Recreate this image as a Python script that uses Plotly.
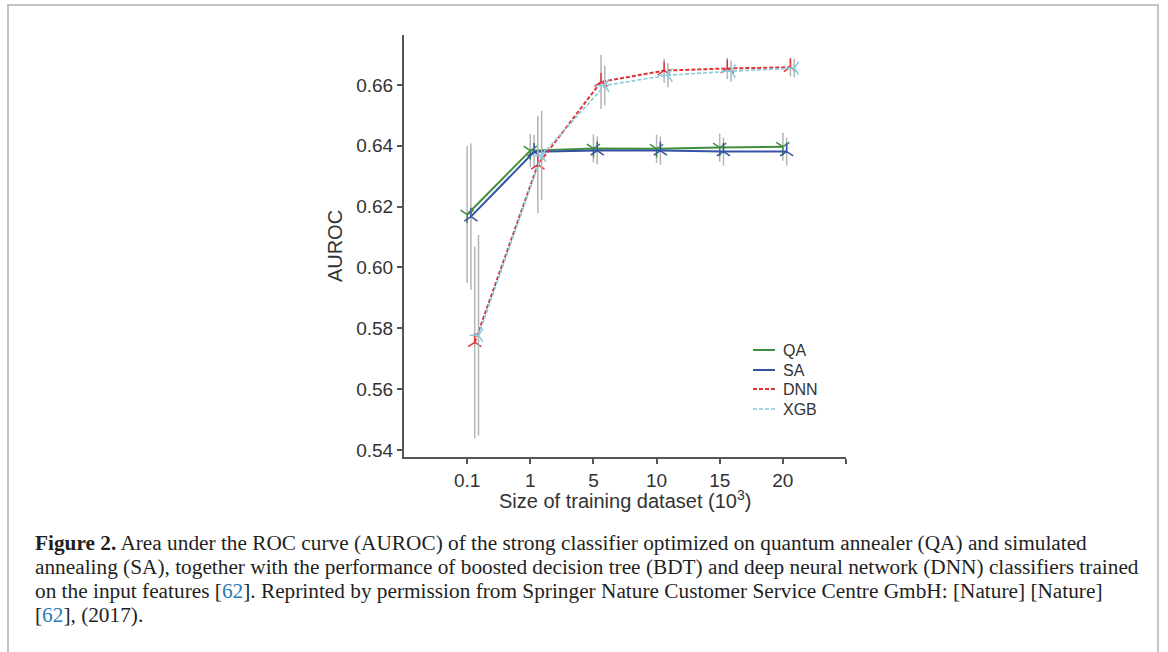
import plotly.graph_objects as go

categories = ["0.1", "1", "5", "10", "15", "20"]
cat_pos = [1, 2, 3, 4, 5, 6]

qa_auc = [0.6174, 0.6384, 0.6391, 0.6390, 0.6394, 0.6397]
qa_err = [0.0225, 0.0055, 0.0046, 0.0046, 0.0046, 0.0046]
sa_auc = [0.6167, 0.6380, 0.6384, 0.6384, 0.6381, 0.6381]
sa_err = [0.0240, 0.0055, 0.0046, 0.0046, 0.0046, 0.0046]
dnn_auc = [0.5754, 0.6338, 0.6610, 0.6647, 0.6654, 0.6658]
dnn_err = [0.0315, 0.0160, 0.0089, 0.0040, 0.0035, 0.0030]
xgb_auc = [0.5777, 0.6368, 0.6598, 0.6632, 0.6645, 0.6655]
xgb_err = [0.0330, 0.0147, 0.0065, 0.0040, 0.0035, 0.0030]

y_ticks = [0.54, 0.56, 0.58, 0.60, 0.62, 0.64, 0.66]

series = [
    ("QA", qa_auc, qa_err, "#3f8f3c", "solid", 0.0, "y-down", 2.0),
    ("SA", sa_auc, sa_err, "#3552a6", "solid", 0.06, "y-up", 2.0),
    ("DNN", dnn_auc, dnn_err, "#de3338", "4px,2px", 0.12, "y-up", 2.0),
    ("XGB", xgb_auc, xgb_err, "#86cbe0", "4px,2px", 0.18, "y-left", 1.6),
]

# body margin is removed in the page (post_script), so page px == figure px
W, H = 1168, 652
L, R, T, B = 404, 846, 35, 457

def px(x):
    return (x - L) / (R - L)

def py(y):
    return (B - y) / (B - T)

fig = go.Figure()
for name, vals, errs, color, dash, off, sym, lw in series:
    fig.add_trace(go.Scatter(
        x=[c + off for c in cat_pos], y=vals,
        mode="lines+markers",
        line=dict(color=color, width=lw, dash=dash),
        marker=dict(symbol=sym, size=11, color=color,
                    line=dict(color=color, width=1.5)),
        error_y=dict(type="data", array=errs, visible=True,
                     color="#b4b4b4", thickness=1.5, width=0),
        showlegend=False, name=name,
    ))

# legend (drawn manually for compact spacing)
legend_y = [350, 370, 389, 409]
for (name, vals, errs, color, dash, off, sym, lw), ly in zip(series, legend_y):
    fig.add_shape(type="line", xref="paper", yref="paper",
                  x0=px(753), x1=px(775), y0=py(ly), y1=py(ly),
                  line=dict(color=color, width=lw, dash=dash))
    fig.add_annotation(text=name, xref="paper", yref="paper",
                       x=px(781), y=py(ly), xanchor="left", yanchor="middle",
                       showarrow=False,
                       font=dict(family="Liberation Sans, Arial", size=16, color="#333333"))

axis_font = dict(family="Liberation Sans, Arial", size=19, color="#333333")
title_font = dict(family="Liberation Sans, Arial", size=20, color="#333333")

fig.update_xaxes(
    range=[0, 7], tickmode="array",
    tickvals=cat_pos + [7], ticktext=categories + [""],
    showline=True, linecolor="#555555", linewidth=2,
    ticks="outside", ticklen=5, tickwidth=1.5, tickcolor="#555555",
    showgrid=False, zeroline=False, tickfont=axis_font,
)
fig.add_annotation(
    text="Size of training dataset (10<sup>3</sup>)",
    xref="paper", yref="paper", x=0.5, y=py(499),
    xanchor="center", yanchor="middle", showarrow=False, font=title_font,
)
fig.update_yaxes(
    range=[0.5377, 0.6764], tickmode="array", tickvals=y_ticks,
    tickformat=".2f",
    showline=True, linecolor="#555555", linewidth=2,
    ticks="outside", ticklen=5, tickwidth=1.5, tickcolor="#555555",
    showgrid=False, zeroline=False, tickfont=axis_font,
    title=dict(text="AUROC", font=title_font, standoff=8),
)

caption_lines = [
    "<b>Figure 2.</b> Area under the ROC curve (AUROC) of the strong classifier optimized on quantum annealer (QA) and simulated",
    "annealing (SA), together with the performance of boosted decision tree (BDT) and deep neural network (DNN) classifiers trained",
    "on the input features [<span style='color:#2b7bb5'>62</span>]. Reprinted by permission from Springer Nature Customer Service Centre GmbH: [Nature] [Nature]",
    "[<span style='color:#2b7bb5'>62</span>], (2017).",
]
caption_y = [543, 567, 591, 615]
for line, yy in zip(caption_lines, caption_y):
    fig.add_annotation(
        text=line, xref="paper", yref="paper", x=px(33), y=py(yy),
        xanchor="left", yanchor="middle", showarrow=False, align="left",
        font=dict(family="Liberation Serif, Times New Roman", size=21.3, color="#1f1f1f"),
    )

fig.add_shape(type="rect", xref="paper", yref="paper",
              x0=px(8), x1=px(1158), y0=py(5), y1=py(700),
              line=dict(color="#c4c4c4", width=2), layer="below")

fig.update_layout(
    width=W, height=H,
    margin=dict(l=L, r=W - R, t=T, b=H - B, autoexpand=False),
    paper_bgcolor="white", plot_bgcolor="white",
    showlegend=False,
)

fig.write_html(
    "out.html",
    config={"displayModeBar": False},
    post_script="document.body.style.margin='0px';document.body.style.overflow='hidden';",
)
